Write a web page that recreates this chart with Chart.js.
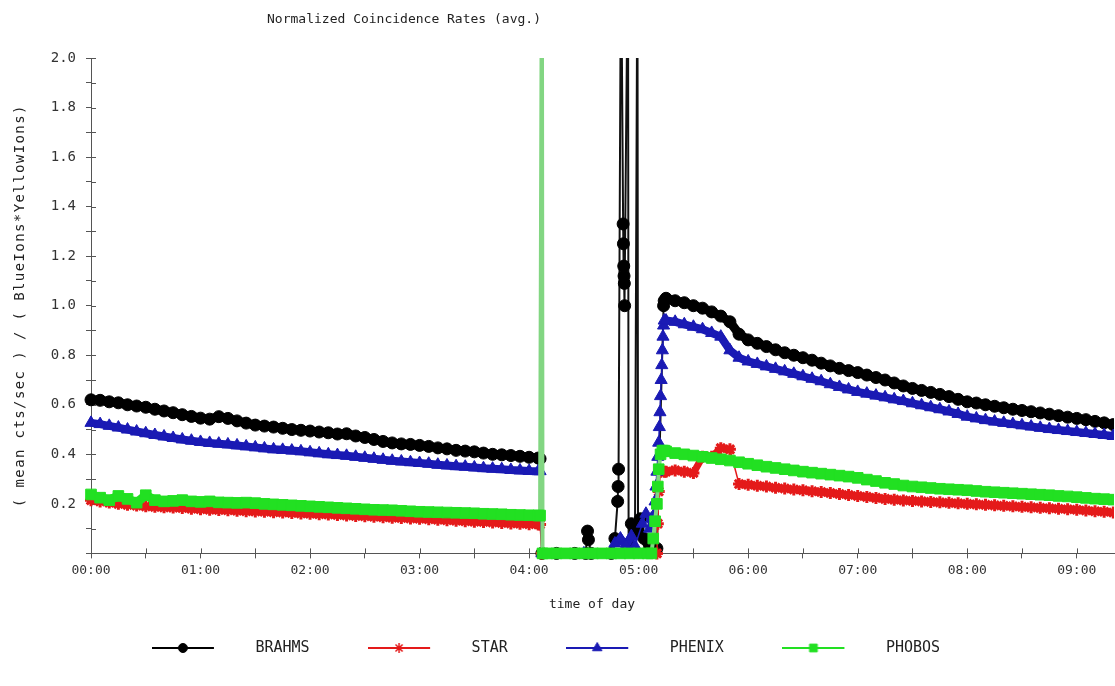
<!DOCTYPE html>
<html>
<head>
<meta charset="utf-8">
<title>Normalized Coincidence Rates (avg.)</title>
<script src="https://cdn.jsdelivr.net/npm/chart.js@4.4.1/dist/chart.umd.min.js"></script>
<style>
  html, body { margin: 0; padding: 0; background: #ffffff; overflow: hidden; }
  #wrap { width: 1115px; height: 686px; overflow: hidden; }
  canvas { display: block; }
</style>
</head>
<body>
<div id="wrap"><canvas id="chart" width="1123" height="686"></canvas></div>
<script>
// ---- time grid (hh:mm) for the two fill periods ----
const timesLeft = [
  "00:00","00:05","00:10","00:15","00:20","00:25","00:30","00:35","00:40","00:45","00:50","00:55",
  "01:00","01:05","01:10","01:15","01:20","01:25","01:30","01:35","01:40","01:45","01:50","01:55",
  "02:00","02:05","02:10","02:15","02:20","02:25","02:30","02:35","02:40","02:45","02:50","02:55",
  "03:00","03:05","03:10","03:15","03:20","03:25","03:30","03:35","03:40","03:45","03:50","03:55",
  "04:00","04:05"
];
const timesRight = [
  "05:15","05:20","05:25","05:30","05:35","05:40","05:45","05:50","05:55",
  "06:00","06:05","06:10","06:15","06:20","06:25","06:30","06:35","06:40","06:45","06:50","06:55",
  "07:00","07:05","07:10","07:15","07:20","07:25","07:30","07:35","07:40","07:45","07:50","07:55",
  "08:00","08:05","08:10","08:15","08:20","08:25","08:30","08:35","08:40","08:45","08:50","08:55",
  "09:00","09:05","09:10","09:15","09:20"
];

// ---- BRAHMS ----
const brahmsLeft = [
  0.620,0.618,0.612,0.608,0.600,0.595,0.590,0.582,0.575,0.568,0.560,0.553,
  0.546,0.542,0.552,0.545,0.535,0.526,0.518,0.514,0.510,0.505,0.500,0.497,
  0.494,0.490,0.487,0.482,0.483,0.474,0.468,0.460,0.452,0.446,0.442,0.440,
  0.436,0.432,0.426,0.422,0.416,0.413,0.410,0.405,0.400,0.398,0.395,0.392,
  0.388,0.385
];
const brahmsGapTimes = [
  "04:06","04:07","04:15","04:25","04:31","04:32","04:32:30","04:34","04:45","04:47",
  "04:48:30","04:48:45","04:49","04:50:20","04:51:30","04:51:40","04:51:50","04:52","04:52:10","04:52:20",
  "04:54:10","04:54:30","04:56","04:58","04:59:20","04:59:40","05:01","05:03","05:06","05:10",
  "05:13:40","05:14"
];
const brahmsGapValues = [
  0.382,0,0,0,0,0.09,0.055,0,0,0.06,
  0.21,0.27,0.34,2.5,1.33,1.25,1.16,1.12,1.09,1.00,
  2.5,0.04,0.12,0.08,2.5,0.10,0.14,0.06,0.02,0.02,
  1.00,1.02
];
const brahmsRight = [
  1.030,1.020,1.012,1.000,0.990,0.975,0.958,0.935,0.885,
  0.862,0.848,0.835,0.822,0.810,0.800,0.790,0.780,0.768,0.757,0.747,0.738,
  0.730,0.720,0.710,0.700,0.688,0.676,0.666,0.658,0.650,0.642,0.633,0.622,
  0.612,0.607,0.600,0.594,0.588,0.582,0.577,0.572,0.567,0.562,0.556,0.550,
  0.545,0.540,0.533,0.527,0.520
];

// ---- STAR ----
const starLeft = [
  0.215,0.210,0.205,0.200,0.196,0.193,0.190,0.188,0.186,0.185,0.183,0.180,
  0.178,0.176,0.175,0.174,0.172,0.170,0.169,0.168,0.166,0.165,0.163,0.161,
  0.160,0.158,0.157,0.155,0.153,0.151,0.150,0.148,0.146,0.144,0.143,0.141,
  0.140,0.138,0.136,0.134,0.132,0.130,0.128,0.127,0.125,0.123,0.121,0.120,
  0.118,0.117
];
const starGapTimes = ["04:06","04:07","05:10","05:10:30","05:11","05:12","05:14"];
const starGapValues = [0.117,0,0,0.12,0.25,0.33,0.33];
const starRight = [
  0.330,0.335,0.330,0.325,0.390,0.390,0.425,0.420,0.280,
  0.277,0.273,0.270,0.265,0.262,0.258,0.255,0.251,0.248,0.244,0.240,0.236,
  0.232,0.228,0.224,0.220,0.217,0.214,0.212,0.210,0.208,0.206,0.204,0.202,
  0.200,0.198,0.196,0.194,0.192,0.190,0.188,0.186,0.184,0.182,0.180,0.178,
  0.176,0.173,0.170,0.168,0.165
];

// ---- PHENIX ----
const phenixLeft = [
  0.527,0.522,0.515,0.508,0.500,0.492,0.485,0.478,0.472,0.466,0.460,0.455,
  0.450,0.446,0.443,0.440,0.436,0.432,0.428,0.424,0.420,0.418,0.415,0.412,
  0.408,0.404,0.400,0.397,0.394,0.390,0.386,0.382,0.378,0.374,0.371,0.368,
  0.365,0.362,0.358,0.355,0.352,0.350,0.347,0.344,0.342,0.340,0.337,0.335,
  0.333,0.332
];
const phenixGapTimes = [
  "04:06","04:07","04:30","04:46","04:47","04:50","04:53","04:56","04:58","05:02",
  "05:04","05:06","05:07","05:08","05:09","05:09:30","05:10","05:10:30","05:11","05:11:20",
  "05:11:40","05:12","05:12:20","05:12:40","05:13","05:13:20","05:13:40","05:14"
];
const phenixGapValues = [
  0.332,0,0,0,0.04,0.06,0.03,0.07,0.03,0.12,
  0.16,0.10,0.14,0.15,0.21,0.27,0.33,0.39,0.447,0.51,
  0.57,0.635,0.70,0.76,0.82,0.875,0.92,0.94
];
const phenixRight = [
  0.940,0.935,0.925,0.915,0.905,0.890,0.875,0.820,0.790,
  0.775,0.765,0.755,0.745,0.735,0.725,0.715,0.705,0.695,0.683,0.672,0.662,
  0.652,0.645,0.637,0.630,0.622,0.615,0.606,0.598,0.590,0.582,0.573,0.563,
  0.552,0.545,0.538,0.532,0.527,0.522,0.517,0.512,0.507,0.502,0.498,0.494,
  0.490,0.486,0.482,0.478,0.474
];

// ---- PHOBOS ----
const phobosLeft = [
  0.238,0.225,0.215,0.232,0.220,0.205,0.235,0.215,0.210,0.212,0.215,0.210,
  0.208,0.210,0.206,0.205,0.204,0.205,0.203,0.200,0.198,0.196,0.194,0.192,
  0.190,0.188,0.186,0.184,0.182,0.180,0.178,0.176,0.175,0.174,0.172,0.170,
  0.168,0.167,0.166,0.165,0.164,0.163,0.162,0.160,0.159,0.158,0.156,0.155,
  0.154,0.153
];
const phobosGapTimes = [
  "04:06","04:07","04:07:20","04:10","04:15","04:20","04:25","04:30","04:35","04:40",
  "04:45","04:50","04:55","05:00","05:05","05:07","05:08","05:09","05:10","05:10:30",
  "05:11","05:12","05:13","05:14"
];
const phobosGapValues = [
  0.153,2.5,0,0,0,0,0,0,0,0,
  0,0,0,0,0,0,0.06,0.13,0.20,0.27,
  0.34,0.40,0.415,0.415
];
const phobosRight = [
  0.412,0.405,0.400,0.395,0.390,0.385,0.380,0.375,0.368,
  0.362,0.356,0.350,0.345,0.340,0.335,0.330,0.326,0.322,0.318,0.314,0.310,
  0.305,0.298,0.292,0.285,0.280,0.274,0.270,0.267,0.264,0.261,0.259,0.257,
  0.255,0.252,0.249,0.247,0.245,0.243,0.241,0.239,0.237,0.235,0.232,0.230,
  0.227,0.224,0.221,0.219,0.217
];

// ---- axis ticks and texts ----
const hourTicks = [0,0.5,1,1.5,2,2.5,3,3.5,4,4.5,5,5.5,6,6.5,7,7.5,8,8.5,9];
const rateTicks = [0,0.1,0.2,0.3,0.4,0.5,0.6,0.7,0.8,0.9,1.0,1.1,1.2,1.3,1.4,1.5,1.6,1.7,1.8,1.9,2.0];
const chartTitle = "Normalized Coincidence Rates (avg.)";
const xTitle = "time of day";
const yTitle = "( mean cts/sec ) / ( BlueIons*YellowIons)";

// ---- helpers ----
const MONO = "'DejaVu Sans Mono', 'Liberation Mono', monospace";

function toHours(s) {
  const p = s.split(":").map(Number);
  return p[0] + p[1] / 60 + (p[2] || 0) / 3600;
}
function points(times, values) {
  return times.map((t, i) => ({ x: toHours(t), y: values[i] }));
}
function joinParts(parts) {
  return parts.flatMap(([t, v]) => points(t, v));
}
function hhmm(v) {
  const h = Math.round(v);
  return (h < 10 ? "0" : "") + h + ":00";
}
// a segment that climbs much faster than it advances is drawn as a thin connector
function isJump(seg) {
  const dx = Math.abs(seg.p1.x - seg.p0.x);
  const dy = Math.abs(seg.p1.y - seg.p0.y);
  return dy > 1.5 * dx + 3;
}

const series = [
  { label: "BRAHMS", color: "#000000", jumpColor: "#111111", bandWidth: 9, jumpWidth: 2,
    shape: "circle", radius: 6, border: 1, legendRadius: 4.5,
    data: joinParts([[timesLeft, brahmsLeft], [brahmsGapTimes, brahmsGapValues], [timesRight, brahmsRight]]) },
  { label: "STAR", color: "#e41a1a", jumpColor: "#e41a1a", bandWidth: 7, jumpWidth: 1.5,
    shape: "star", radius: 6, border: 3, legendRadius: 5,
    data: joinParts([[timesLeft, starLeft], [starGapTimes, starGapValues], [timesRight, starRight]]) },
  { label: "PHENIX", color: "#1a1ab4", jumpColor: "#1a1ab4", bandWidth: 8, jumpWidth: 1.5,
    shape: "triangle", radius: 7, border: 1, legendRadius: 5.5,
    data: joinParts([[timesLeft, phenixLeft], [phenixGapTimes, phenixGapValues], [timesRight, phenixRight]]) },
  { label: "PHOBOS", color: "#22e022", jumpColor: "#82d682", bandWidth: 9, jumpWidth: 4,
    shape: "rect", radius: 7.5, border: 1, legendRadius: 5.5,
    data: joinParts([[timesLeft, phobosLeft], [phobosGapTimes, phobosGapValues], [timesRight, phobosRight]]) }
];

// legend swatch: a short line with the series marker in its middle, then a gap before the text
function legendIcon(s) {
  const c = document.createElement("canvas");
  c.width = 96; c.height = 14;
  const g = c.getContext("2d");
  g.strokeStyle = s.color; g.lineWidth = 1.8;
  g.beginPath(); g.moveTo(0, 7); g.lineTo(62, 7); g.stroke();
  g.fillStyle = s.color; g.strokeStyle = s.color; g.lineWidth = s.shape === "star" ? 1.5 : 1;
  Chart.helpers.drawPoint(g, { pointStyle: s.shape, radius: s.legendRadius, rotation: 0, borderWidth: g.lineWidth }, 31, 7);
  return c;
}
const icons = series.map(legendIcon);

// cross-shaped tick marks, free-standing texts and the legend row offset
const decorations = {
  id: "decorations",
  afterLayout(chart) {
    // centre the legend row on the visible page rather than the wider canvas
    chart.legend.right -= 31;
  },
  beforeDatasetsDraw(chart) {
    const { ctx, chartArea: a, scales: { x, y } } = chart;
    ctx.save();
    ctx.strokeStyle = "#555"; ctx.lineWidth = 1;
    ctx.beginPath();
    x.ticks.forEach(t => {
      const px = Math.round(x.getPixelForValue(t.value)) + 0.5;
      ctx.moveTo(px, a.bottom); ctx.lineTo(px, a.bottom - 5);
    });
    y.ticks.forEach(t => {
      const py = Math.round(y.getPixelForValue(t.value)) + 0.5;
      ctx.moveTo(a.left, py); ctx.lineTo(a.left + 5, py);
    });
    ctx.stroke();
    ctx.restore();
  },
  afterDraw(chart) {
    const { ctx, chartArea: a } = chart;
    ctx.save();
    ctx.fillStyle = "#222";
    ctx.font = "13px " + MONO;
    ctx.textAlign = "center";
    ctx.textBaseline = "middle";
    ctx.fillText(chartTitle, 404, 20);
    ctx.fillText(xTitle, 592, a.bottom + 51);
    ctx.translate(20, (a.top + a.bottom) / 2);
    ctx.rotate(-Math.PI / 2);
    ctx.font = "14px " + MONO;
    ctx.letterSpacing = "1.4px";
    ctx.fillText(yTitle, 0, 0);
    ctx.restore();
  }
};

Chart.defaults.font.family = MONO;

new Chart(document.getElementById("chart"), {
  type: "scatter",
  data: {
    datasets: series.map((s, i) => ({
      label: s.label,
      data: s.data,
      showLine: true,
      borderColor: s.color,
      borderWidth: s.bandWidth,
      backgroundColor: s.color,
      segment: {
        borderColor: seg => (isJump(seg) ? s.jumpColor : s.color),
        borderWidth: seg => (isJump(seg) ? s.jumpWidth : s.bandWidth)
      },
      pointStyle: s.shape,
      pointRadius: s.radius,
      pointHoverRadius: s.radius,
      pointBackgroundColor: s.color,
      pointBorderColor: s.color,
      pointBorderWidth: s.border,
      order: series.length - i,
      clip: { left: 7, top: 0, right: 0, bottom: 7 }
    }))
  },
  options: {
    responsive: false,
    animation: false,
    devicePixelRatio: 1,
    layout: { padding: { top: 58, right: 0, bottom: 20.5, left: 0 } },
    plugins: {
      title: { display: false },
      tooltip: { enabled: false },
      legend: {
        display: true,
        position: "bottom",
        labels: {
          usePointStyle: true,
          pointStyleWidth: 96,
          padding: 58.5,
          color: "#222",
          font: { size: 15, family: MONO },
          generateLabels: chart => series.map((s, i) => ({
            text: s.label,
            datasetIndex: i,
            pointStyle: icons[i],
            fontColor: "#222",
            fillStyle: s.color,
            strokeStyle: s.color,
            lineWidth: 0,
            hidden: false
          }))
        }
      }
    },
    scales: {
      x: {
        type: "linear",
        position: "bottom",
        min: 0,
        max: 9.34,
        afterBuildTicks: scale => { scale.ticks = hourTicks.map(v => ({ value: v })); },
        ticks: {
          autoSkip: false,
          maxRotation: 0,
          padding: 4,
          color: "#333",
          font: { size: 13, family: MONO },
          callback: v => (Number.isInteger(v) ? hhmm(v) : "")
        },
        grid: { drawOnChartArea: false, drawTicks: true, tickLength: 5, color: "#555" },
        border: { display: true, color: "#555", width: 1 }
      },
      y: {
        type: "linear",
        position: "left",
        min: 0,
        max: 2,
        afterBuildTicks: scale => { scale.ticks = rateTicks.map(v => ({ value: v })); },
        afterFit: scale => { scale.width = 91; },
        ticks: {
          autoSkip: false,
          padding: 10,
          color: "#333",
          font: { size: 14, family: MONO },
          callback: v => {
            const tenths = Math.round(v * 10);
            return tenths > 0 && tenths % 2 === 0 ? (tenths / 10).toFixed(1) : "";
          }
        },
        grid: { drawOnChartArea: false, drawTicks: true, tickLength: 5, color: "#555" },
        border: { display: true, color: "#555", width: 1 },
        title: { display: false }
      }
    }
  },
  plugins: [decorations]
});
</script>
</body>
</html>
